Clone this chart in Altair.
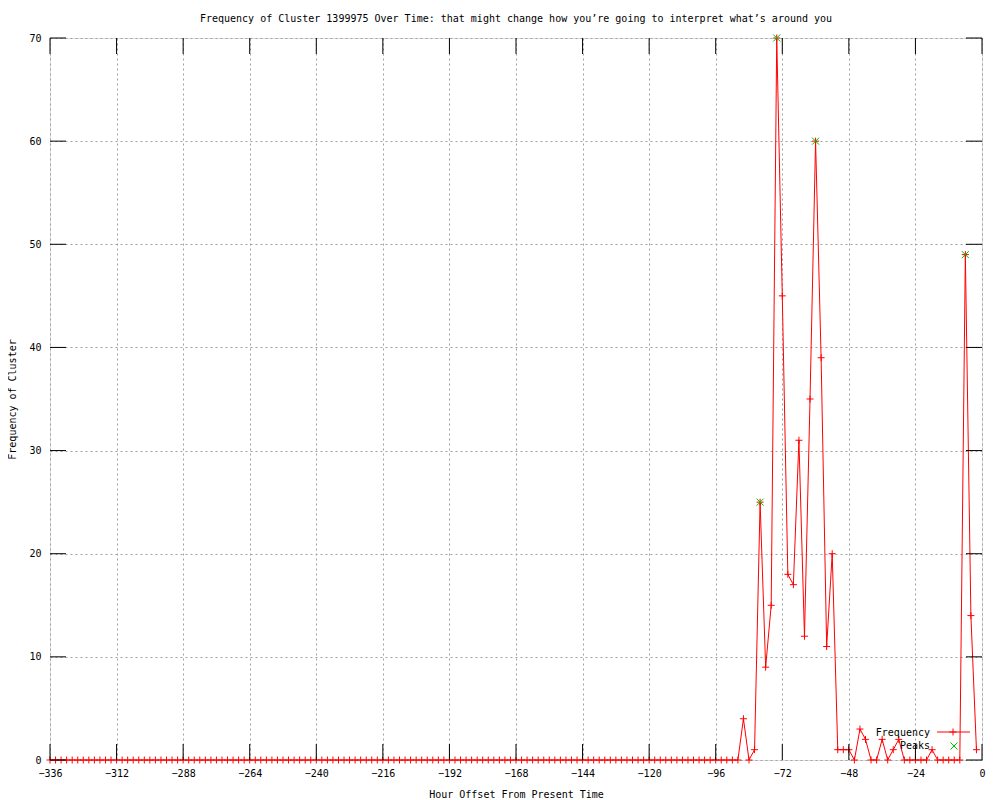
import altair as alt
import pandas as pd

# ---- data ----
hours = list(range(-336, 0, 2))
freq = [0] * 125 + [
    4, 0, 1, 25, 9, 15, 70, 45, 18, 17,
    31, 12, 35, 60, 39, 11, 20, 1, 1, 1,
    0, 3, 2, 0, 0, 2, 0, 1, 2, 0,
    0, 0, 0, 0, 1, 0, 0, 0, 0, 0,
    49, 14, 1,
]
peak_hours = [-80, -74, -60, -6]
peak_values = [25, 70, 60, 49]
x_ticks = list(range(-336, 1, 24))
y_ticks = list(range(0, 71, 10))
legend_labels = ["Frequency", "Peaks"]
title_text = "Frequency of Cluster 1399975 Over Time: that might change how you\u2019re going to interpret what\u2019s around you"
x_title = "Hour Offset From Present Time"
y_title = "Frequency of Cluster"

# ---- styling ----
mono = "DejaVu Sans Mono"
W, H = 932, 722
TICK = 16
PLUS = "M-1,0L1,0M0,-1L0,1"
XSHAPE = "M-1,-1L1,1M-1,1L1,-1"
RED = "#ff0000"
GREEN = "#00c000"

df = pd.DataFrame({"hour": hours, "freq": freq})
pk = pd.DataFrame({"hour": peak_hours, "freq": peak_values})
xt = pd.DataFrame({"v": x_ticks})
yt = pd.DataFrame({"v": y_ticks})
tt = pd.DataFrame({"t": [title_text]})

xs = alt.Scale(domain=[-336, 0], nice=False, zero=False)
ys = alt.Scale(domain=[0, 70], nice=False, zero=False)

xaxis = alt.Axis(
    values=x_ticks, format="d", title=x_title, ticks=False, domain=False,
    grid=True, gridColor="#a0a0a0", gridDash=[2, 3], gridWidth=1,
    labelPadding=8, labelFont=mono, labelFontSize=10, labelColor="black",
    labelFlush=False, labelOverlap=False,
    titleFont=mono, titleFontSize=10, titleFontWeight="normal", titleColor="black",
    titleY=37, titleBaseline="alphabetic",
)
yaxis = alt.Axis(
    values=y_ticks, format="d", title=y_title, ticks=False, domain=False,
    grid=True, gridColor="#a0a0a0", gridDash=[2, 3], gridWidth=1,
    labelPadding=9, labelFont=mono, labelFontSize=10, labelColor="black",
    labelFlush=False, labelOverlap=False,
    titleFont=mono, titleFontSize=10, titleFontWeight="normal", titleColor="black",
    titleX=-38, titleBaseline="middle",
)

X = alt.X("hour:Q", scale=xs, axis=xaxis)
Y = alt.Y("freq:Q", scale=ys, axis=yaxis)

line = alt.Chart(df).mark_line(color=RED, strokeWidth=1, clip=False).encode(x=X, y=Y)
pts = alt.Chart(df).mark_point(
    shape=PLUS, filled=False, size=49, color=RED, strokeWidth=1, opacity=1
).encode(x=X, y=Y)
peaks = alt.Chart(pk).mark_point(
    shape=XSHAPE, filled=False, size=49, color=GREEN, strokeWidth=1, opacity=1
).encode(x=X, y=Y)

XT = alt.X("v:Q", scale=xs, axis=xaxis)
YT = alt.Y("v:Q", scale=ys, axis=yaxis)
bottom_ticks = alt.Chart(xt).mark_rule(color="black", strokeWidth=1).encode(
    x=XT, y=alt.value(H), y2=alt.value(H - TICK))
top_ticks = alt.Chart(xt).mark_rule(color="black", strokeWidth=1).encode(
    x=XT, y=alt.value(0), y2=alt.value(TICK))
left_ticks = alt.Chart(yt).mark_rule(color="black", strokeWidth=1).encode(
    y=YT, x=alt.value(0), x2=alt.value(TICK))
right_ticks = alt.Chart(yt).mark_rule(color="black", strokeWidth=1).encode(
    y=YT, x=alt.value(W), x2=alt.value(W - TICK))

# ---- title as text above the plot ----
title_mark = alt.Chart(tt).mark_text(
    align="center", baseline="alphabetic", font=mono, fontSize=10, color="black"
).encode(text="t:N", x=alt.value(W / 2), y=alt.value(-16))

# ---- key (bottom right, gnuplot style) ----
leg1 = pd.DataFrame({"label": [legend_labels[0]]})
leg2 = pd.DataFrame({"label": [legend_labels[1]]})
key_text1 = alt.Chart(leg1).mark_text(
    align="right", baseline="middle", font=mono, fontSize=10, color="black"
).encode(text="label:N", x=alt.value(880), y=alt.value(695))
key_text2 = alt.Chart(leg2).mark_text(
    align="right", baseline="middle", font=mono, fontSize=10, color="black"
).encode(text="label:N", x=alt.value(880), y=alt.value(708))
key_line = alt.Chart(leg1).mark_rule(color=RED, strokeWidth=1).encode(
    x=alt.value(887), x2=alt.value(920), y=alt.value(694))
key_plus = alt.Chart(leg1).mark_point(
    shape=PLUS, filled=False, size=49, color=RED, strokeWidth=1, opacity=1
).encode(x=alt.value(903), y=alt.value(694))
key_x = alt.Chart(leg2).mark_point(
    shape=XSHAPE, filled=False, size=49, color=GREEN, strokeWidth=1, opacity=1
).encode(x=alt.value(904), y=alt.value(708))

chart = alt.layer(
    line, pts, peaks,
    bottom_ticks, top_ticks, left_ticks, right_ticks,
    title_mark,
    key_text1, key_text2, key_line, key_plus, key_x,
).properties(
    width=W, height=H,
    autosize=alt.AutoSizeParams(type="none"),
    padding={"left": 42, "top": 30, "right": 10, "bottom": 40},
).configure_view(
    stroke="black", strokeWidth=1
).configure(background="white")

chart.save("out.html", embed_options={"renderer": "svg", "actions": False})
